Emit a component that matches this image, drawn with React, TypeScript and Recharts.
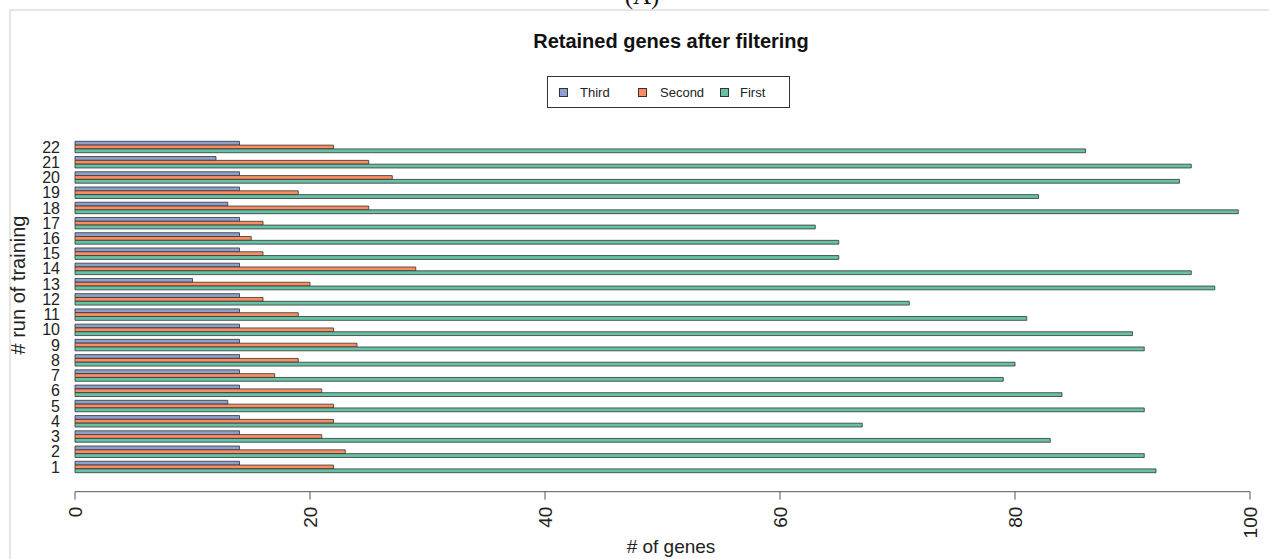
import React from 'react';
import { BarChart, Bar, XAxis, YAxis, Legend } from 'recharts';

// Categories in display order (top to bottom)
const runs = ['22', '21', '20', '19', '18', '17', '16', '15', '14', '13', '12', '11', '10', '9', '8', '7', '6', '5', '4', '3', '2', '1'];
const thirdValues = [14, 12, 14, 14, 13, 14, 14, 14, 14, 10, 14, 14, 14, 14, 14, 14, 14, 13, 14, 14, 14, 14];
const secondValues = [22, 25, 27, 19, 25, 16, 15, 16, 29, 20, 16, 19, 22, 24, 19, 17, 21, 22, 22, 21, 23, 22];
const firstValues = [86, 95, 94, 82, 99, 63, 65, 65, 95, 97, 71, 81, 90, 91, 80, 79, 84, 91, 67, 83, 91, 92];
const xTicks = [0, 20, 40, 60, 80, 100];
const legendOrder = ['Third', 'Second', 'First'];

const data = runs.map((r, i) => ({
  run: r,
  Third: thirdValues[i],
  Second: secondValues[i],
  First: firstValues[i],
}));

const FONT = '"Liberation Sans", Arial, Helvetica, sans-serif';
const COLORS: Record<string, string> = { Third: '#8DA0CB', Second: '#FC8D62', First: '#66C2A5' };
const STROKE = '#333333';

const XTick = (props: any) => {
  const { x, y, payload } = props;
  return (
    <text
      x={x}
      y={y}
      transform={`rotate(-90 ${x} ${y})`}
      textAnchor="end"
      dy="0.35em"
      fontSize={19}
      fill="#222"
      fontFamily={FONT}
    >
      {payload.value}
    </text>
  );
};

const squareLeft = [11, 90, 172];
const textLeft = [32, 112, 192];

const LegendBox = (props: any) => {
  const payload = props.payload || [];
  const items = legendOrder.map((name) => {
    const p = payload.find((q: any) => q.value === name);
    return { value: name, color: (p && p.color) || COLORS[name] };
  });
  return (
    <div
      style={{
        position: 'relative',
        width: 243,
        height: 32,
        border: '1px solid #333',
        boxSizing: 'border-box',
        background: '#fff',
        fontFamily: FONT,
        fontSize: 13,
        color: '#222',
      }}
    >
      {items.map((p: any, i: number) => (
        <React.Fragment key={p.value}>
          <span
            style={{
              position: 'absolute',
              left: squareLeft[i],
              top: 10.5,
              width: 9,
              height: 9,
              background: p.color,
              border: '1px solid #333',
              boxSizing: 'border-box',
            }}
          />
          <span
            style={{
              position: 'absolute',
              left: textLeft[i],
              top: 7.5,
              lineHeight: '15px',
              whiteSpace: 'nowrap',
            }}
          >
            {p.value}
          </span>
        </React.Fragment>
      ))}
    </div>
  );
};

export default function App() {
  return (
    <div style={{ position: 'absolute', left: 0, top: 0, width: 1269, height: 559, background: '#fff', overflow: 'hidden' }}>
      <div
        style={{
          position: 'absolute',
          left: 9,
          top: 9,
          right: 0,
          bottom: 0,
          borderTop: '2px solid #e6e6e6',
          borderLeft: '2px solid #e6e6e6',
        }}
      />
      <div style={{ position: 'absolute', left: 0, top: 0 }}>
        <BarChart
          width={1269}
          height={559}
          data={data}
          layout="vertical"
          margin={{ top: 139.3, right: 19, left: 0, bottom: 7.3 }}
          barSize={3.81}
          barGap={0}
        >
          <YAxis
            type="category"
            dataKey="run"
            width={75}
            axisLine={false}
            tickLine={false}
            tickMargin={9}
            padding={{ top: 0, bottom: 17.2 }}
            interval={0}
            tick={{ fontSize: 16, fill: '#222', fontFamily: FONT }}
          />
          <XAxis
            type="number"
            domain={[0, 100]}
            ticks={xTicks}
            height={60}
            axisLine={{ stroke: '#555', strokeWidth: 1 }}
            tickLine={{ stroke: '#555', strokeWidth: 1 }}
            tickSize={8}
            tickMargin={7}
            tick={<XTick />}
            interval={0}
          />
          <Legend
            layout="horizontal"
            verticalAlign="middle"
            align="center"
            wrapperStyle={{ top: 76, left: 547, width: 243, height: 32 }}
            content={<LegendBox />}
          />
          <Bar dataKey="Third" name="Third" fill={COLORS.Third} stroke={STROKE} strokeWidth={0.8} isAnimationActive={false} />
          <Bar dataKey="Second" name="Second" fill={COLORS.Second} stroke={STROKE} strokeWidth={0.8} isAnimationActive={false} />
          <Bar dataKey="First" name="First" fill={COLORS.First} stroke={STROKE} strokeWidth={0.8} isAnimationActive={false} />
        </BarChart>
      </div>
      <svg width={1269} height={559} style={{ position: 'absolute', left: 0, top: 0, pointerEvents: 'none' }}>
        <text x={642} y={4} textAnchor="middle" fontSize={25} fontFamily='"Liberation Serif", "DejaVu Serif", serif' fill="#111">
          (A)
        </text>
        <text x={671} y={48} textAnchor="middle" fontSize={20} fontWeight="bold" fontFamily={FONT} fill="#111">
          Retained genes after filtering
        </text>
        <text x={671} y={553} textAnchor="middle" fontSize={19} fontFamily={FONT} fill="#222">
          # of genes
        </text>
        <text
          transform="translate(25 285) rotate(-90)"
          x={0}
          y={0}
          textAnchor="middle"
          fontSize={20}
          fontFamily={FONT}
          fill="#222"
        >
          # run of training
        </text>
      </svg>
    </div>
  );
}
